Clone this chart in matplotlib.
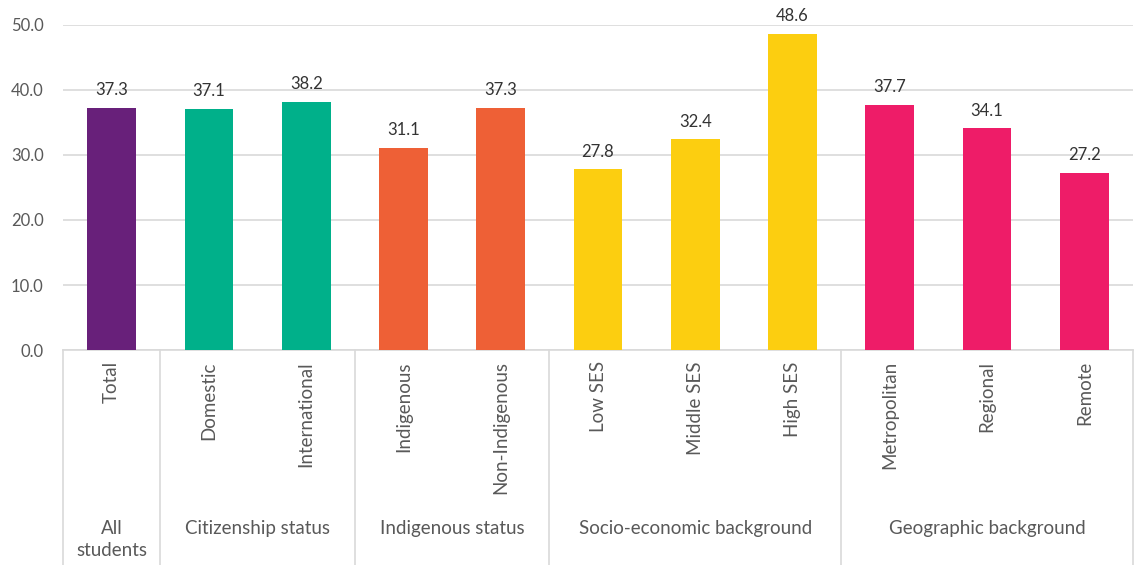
import matplotlib.pyplot as plt
from matplotlib.transforms import blended_transform_factory

plt.rcParams['font.family'] = ['Lato', 'DejaVu Sans']

categories = ['Total', 'Domestic', 'International', 'Indigenous', 'Non-Indigenous',
              'Low SES', 'Middle SES', 'High SES', 'Metropolitan', 'Regional', 'Remote']
values = [37.3, 37.1, 38.2, 31.1, 37.3, 27.8, 32.4, 48.6, 37.7, 34.1, 27.2]
groups = ['All\nstudents', 'Citizenship status', 'Indigenous status',
          'Socio-economic background', 'Geographic background']
group_sizes = [1, 2, 2, 3, 3]
group_colors = ['#68207A', '#00B08A', '#EE6036', '#FCCE10', '#EE1C68']

# one colour per bar, following its group
colors = []
for c, n in zip(group_colors, group_sizes):
    colors += [c] * n

fig = plt.figure(figsize=(11.34, 5.65), dpi=100)
ax = fig.add_axes([0.0556, 0.3805, 0.9435, 0.5753])

x = list(range(len(categories)))
ax.bar(x, values, width=0.5, color=colors, zorder=3)
for xi, v in zip(x, values):
    ax.annotate('%.1f' % v, (xi, v), xytext=(0, 7), textcoords='offset points',
                ha='center', va='bottom', fontsize=12, color='#333333')

ax.set_xlim(-0.5, len(categories) - 0.5)
ax.set_ylim(0, 50)
ax.set_yticks([0, 10, 20, 30, 40, 50])
ax.set_yticklabels(['%.1f' % t for t in [0, 10, 20, 30, 40, 50]], fontsize=12, color='#595959')
ax.yaxis.grid(True, color='#D9D9D9', linewidth=1.2, zorder=0)
ax.set_xticks(x)
ax.set_xticklabels(categories, rotation=90, fontsize=13.5, color='#595959', va='top')
ax.tick_params(axis='both', length=0)
ax.tick_params(axis='x', pad=8)
ax.tick_params(axis='y', pad=14)

for s in ['top', 'right', 'left']:
    ax.spines[s].set_visible(False)
ax.spines['bottom'].set_color('#D9D9D9')
ax.spines['bottom'].set_linewidth(1.2)

# group separators and group names under the tick labels
trans = blended_transform_factory(ax.transData, ax.transAxes)
start = -0.5
for name, n in zip(groups, group_sizes):
    ax.plot([start, start], [0, -0.68], color='#D9D9D9', linewidth=1.2,
            transform=trans, clip_on=False)
    ax.text(start + n / 2, -0.523, name, ha='center', va='top', fontsize=13.5,
            color='#595959', transform=trans, linespacing=1.35)
    start += n
ax.plot([start, start], [0, -0.68], color='#D9D9D9', linewidth=1.2,
        transform=trans, clip_on=False)

fig.savefig('out.png', dpi=100)
